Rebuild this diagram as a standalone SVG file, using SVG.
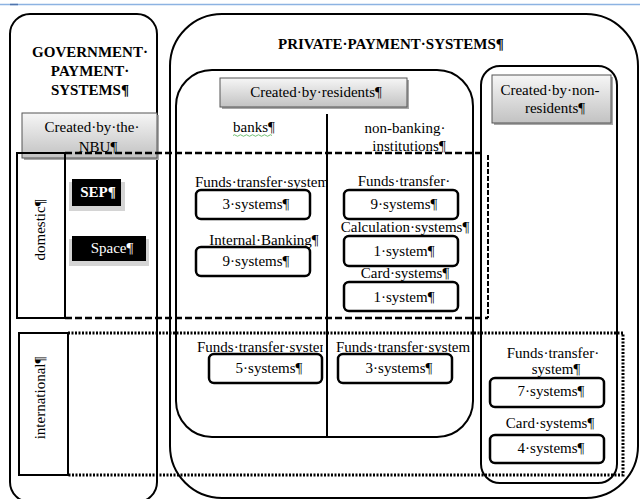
<svg xmlns="http://www.w3.org/2000/svg" width="640" height="499" viewBox="0 0 640 499">
<style>
text{font-family:"Liberation Serif","Times New Roman",serif;font-size:15px;fill:#000}
.b{font-weight:bold}
.m{text-anchor:middle}
.w{fill:#fff}
.frame{fill:none;stroke:#000;stroke-width:2}
.sys{fill:#fff;stroke:#000;stroke-width:2.5}
.gbox{fill:url(#g);stroke:#555;stroke-width:1}
.shadow{fill:#a8a8a8}
.dash{fill:none;stroke:#000;stroke-width:2.5;stroke-dasharray:7 3}
.dash2{fill:none;stroke:#000;stroke-width:2;stroke-dasharray:5 2}
.dot{fill:none;stroke:#000;stroke-width:3;stroke-dasharray:2 1.5}
</style>
<defs>
<linearGradient id="g" x1="0" y1="0" x2="0" y2="1">
<stop offset="0" stop-color="#f6f6f6"/>
<stop offset="1" stop-color="#c2c2c2"/>
</linearGradient>
<clipPath id="c1"><rect x="180" y="160" width="147" height="40"/></clipPath>
<clipPath id="c2"><rect x="180" y="330" width="143" height="30"/></clipPath>
</defs>
<rect width="640" height="499" fill="#fff"/>
<line x1="0" y1="4.5" x2="640" y2="4.5" stroke="#8db3e2" stroke-width="1.5"/>
<line x1="10" y1="4.5" x2="18" y2="4.5" stroke="#4f74ad" stroke-width="1.5"/>

<g id="government">
<rect class="frame" x="10" y="14" width="147" height="488" rx="20"/>
<text class="b m" x="90" y="57">GOVERNMENT·</text>
<text class="b m" x="90" y="76">PAYMENT·</text>
<text class="b m" x="90" y="95">SYSTEMS¶</text>
</g>

<g id="private">
<rect class="frame" x="170" y="14" width="468" height="484" rx="52"/>
<text class="b m" x="391" y="49">PRIVATE·PAYMENT·SYSTEMS¶</text>
</g>

<g id="residents">
<rect class="frame" x="176" y="70" width="297" height="367" rx="36"/>
<line x1="327" y1="114" x2="327" y2="437" stroke="#000" stroke-width="2"/>
<rect class="shadow" x="222" y="80" width="187" height="29"/>
<rect class="gbox" x="220" y="78" width="187" height="29"/>
<text class="m" x="316" y="97">Created·by·residents¶</text>
<text class="m" x="254" y="132">banks¶</text>
<path d="M233 135.5 q1.5 -1.5 3 0 t3 0 t3 0 t3 0 t3 0 t3 0 t3 0 t3 0 t3 0 t3 0 t3 0 t3 0 t3 0" fill="none" stroke="#4caf50" stroke-width="0.8"/>
<text class="m" x="405" y="133">non-banking·</text>
<text class="m" x="409" y="151">institutions¶</text>
</g>

<g id="nonresidents">
<rect class="frame" x="481" y="66" width="136" height="417" rx="19"/>
<rect class="shadow" x="494" y="77" width="119" height="48"/>
<rect class="gbox" x="492" y="75" width="119" height="48"/>
<text class="m" x="550" y="95">Created·by·non-</text>
<text class="m" x="555" y="113">residents¶</text>
</g>

<g id="nbu">
<rect class="shadow" x="24" y="115" width="135" height="45"/>
<rect class="gbox" x="22" y="113" width="135" height="45"/>
<text class="m" x="92" y="132">Created·by·the·</text>
<text class="m" x="98" y="152">NBU¶</text>
</g>

<g id="connectors">
<path class="dash" d="M65 153 H480"/>
<path class="dash2" d="M488 155 V318"/>
<path class="dash" d="M65 318 H488"/>
<path class="dot" d="M68 333 H623 V475 H68"/>
</g>

<g id="domestic">
<rect class="frame" x="17" y="153" width="48" height="165"/>
<text class="m" transform="translate(45,230) rotate(-90)" x="0" y="0">domestic¶</text>
</g>

<g id="international">
<rect class="frame" x="19" y="333" width="49" height="142"/>
<text class="m" transform="translate(45,398) rotate(-90)" x="0" y="0">international¶</text>
</g>

<g id="sep">
<rect x="69" y="182" width="56" height="29" fill="#d4d4d4"/>
<rect x="72" y="179" width="49" height="27" fill="#000"/>
<text class="m w" x="98" y="197" style="font-weight:600">SEP¶</text>
</g>

<g id="space">
<rect x="69" y="239" width="80" height="27" fill="#d4d4d4"/>
<rect x="72" y="236" width="74" height="25" fill="#000"/>
<text class="m w" x="112" y="253">Space¶</text>
</g>

<g id="banks-funds-domestic">
<text x="195" y="187" clip-path="url(#c1)">Funds·transfer·system</text>
<rect class="sys" x="196" y="190" width="114" height="29" rx="5"/>
<text class="m" x="256" y="209">3·systems¶</text>
</g>

<g id="banks-internal">
<text class="m" x="264" y="245">Internal·Banking¶</text>
<rect class="sys" x="196" y="247" width="114" height="29" rx="5"/>
<text class="m" x="256" y="266">9·systems¶</text>
</g>

<g id="nb-funds-domestic">
<text class="m" x="404" y="186">Funds·transfer·</text>
<rect class="sys" x="344" y="190" width="114" height="29" rx="5"/>
<text class="m" x="404" y="209">9·systems¶</text>
</g>

<g id="nb-calc">
<text class="m" x="405" y="232">Calculation·systems¶</text>
<rect class="sys" x="344" y="236" width="114" height="30" rx="5"/>
<text class="m" x="404" y="256">1·system¶</text>
</g>

<g id="nb-card">
<text class="m" x="405" y="278">Card·systems¶</text>
<rect class="sys" x="344" y="282" width="114" height="29" rx="5"/>
<text class="m" x="404" y="302">1·system¶</text>
</g>

<g id="banks-funds-intl">
<text x="197" y="352" clip-path="url(#c2)">Funds·transfer·system</text>
<rect class="sys" x="209" y="354" width="113" height="29" rx="5"/>
<text class="m" x="269" y="373">5·systems¶</text>
</g>

<g id="nb-funds-intl">
<text x="336" y="352">Funds·transfer·system</text>
<rect class="sys" x="338" y="354" width="114" height="29" rx="5"/>
<text class="m" x="399" y="373">3·systems¶</text>
</g>

<g id="nr-funds">
<text class="m" x="553" y="358">Funds·transfer·</text>
<text class="m" x="556" y="374">system¶</text>
<rect class="sys" x="490" y="378" width="114" height="29" rx="5"/>
<text class="m" x="551" y="396">7·systems¶</text>
</g>

<g id="nr-card">
<text class="m" x="550" y="428">Card·systems¶</text>
<rect class="sys" x="490" y="435" width="114" height="28" rx="5"/>
<text class="m" x="551" y="453">4·systems¶</text>
</g>
</svg>
